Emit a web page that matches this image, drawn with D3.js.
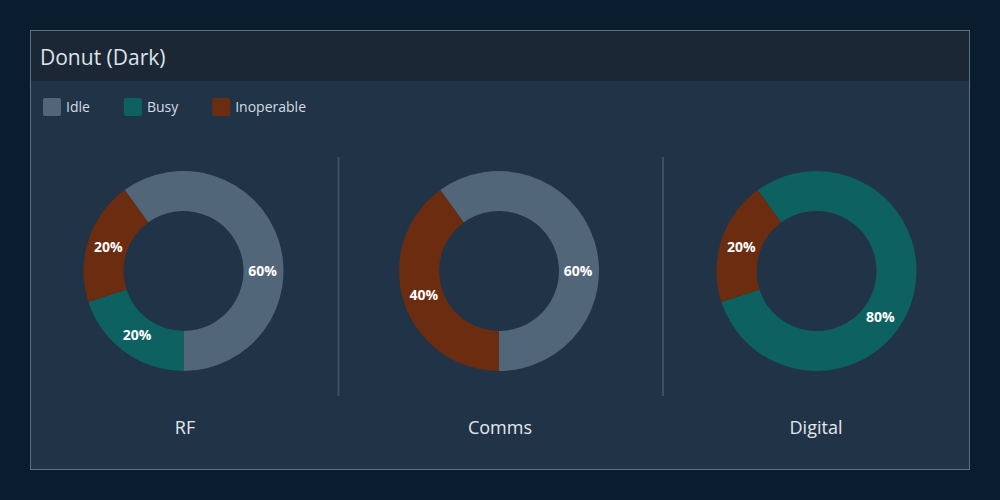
<!DOCTYPE html>
<html>
<head>
<meta charset="utf-8">
<script src="https://cdn.jsdelivr.net/npm/d3@7/dist/d3.min.js"></script>
<style>
  html, body { margin: 0; padding: 0; background: #0b1e30; }
  svg { display: block; font-family: "Open Sans", sans-serif; }
</style>
</head>
<body>
<svg id="chart" width="1000" height="500"></svg>
<script>
// ---- data ----
const categories = ["RF", "Comms", "Digital"];
const statuses = ["Idle", "Busy", "Inoperable"];
const idleValues = [60, 60, 0];
const busyValues = [20, 0, 80];
const inoperableValues = [20, 40, 20];
const statusColors = ["#52667a", "#0d6161", "#6c2c10"];
const title = "Donut (Dark)";

// ---- layout ----
const W = 1000, H = 500;
const svg = d3.select("#chart");

svg.append("rect").attr("width", W).attr("height", H).attr("fill", "#0a1d2f");
// panel body
svg.append("rect").attr("x", 30.5).attr("y", 30.5).attr("width", 939).attr("height", 439)
  .attr("fill", "#203347");
// header
svg.append("rect").attr("x", 31).attr("y", 31).attr("width", 938).attr("height", 50)
  .attr("fill", "#1b2735");
// border
svg.append("rect").attr("x", 30.5).attr("y", 30.5).attr("width", 939).attr("height", 439)
  .attr("fill", "none").attr("stroke", "#5c7082").attr("stroke-width", 1);

svg.append("text").attr("x", 40).attr("y", 64.5)
  .attr("font-size", 21).attr("fill", "#dde3e8").text(title);

// legend
const color = d3.scaleOrdinal().domain(statuses).range(statusColors);
const legend = svg.append("g").attr("transform", "translate(43,98)");
let lx = 0;
statuses.forEach(s => {
  const g = legend.append("g").attr("transform", `translate(${lx},0)`);
  g.append("rect").attr("width", 18).attr("height", 18).attr("rx", 2)
    .attr("fill", color(s));
  const t = g.append("text").attr("x", 23).attr("y", 14.3)
    .attr("font-size", 14).attr("fill", "#d5dce2").text(s);
  lx += 23 + t.node().getComputedTextLength() + 34;
});

// columns
const x = d3.scalePoint().domain(categories).range([183.5, 814.5]);
const cy = 271;
const outerR = 100, innerR = 60, labelR = 79;

// dividers
[338.5, 663].forEach(dx => {
  svg.append("line").attr("x1", dx).attr("x2", dx).attr("y1", 157).attr("y2", 396)
    .attr("stroke", "#3c4f65").attr("stroke-width", 2);
});

const pie = d3.pie().sort(null).value(d => d.value)
  .startAngle(-0.2 * Math.PI).endAngle(1.8 * Math.PI);
const arc = d3.arc().innerRadius(innerR).outerRadius(outerR);

function labelAngle(d) {
  let a0 = d.startAngle, a1 = d.endAngle;
  if (a0 < 0 && a1 > 0) {
    if (a1 >= -a0) a0 = 0; else a1 = 0;
  }
  return (a0 + a1) / 2;
}

categories.forEach((cat, i) => {
  const data = [
    { status: "Idle", value: idleValues[i] },
    { status: "Busy", value: busyValues[i] },
    { status: "Inoperable", value: inoperableValues[i] }
  ];
  const total = d3.sum(data, d => d.value);
  const cx = x(cat) + (i === 2 ? 2 : 0);
  const g = svg.append("g").attr("transform", `translate(${cx},${cy})`);
  const arcs = pie(data).filter(d => d.data.value > 0);
  g.selectAll("path").data(arcs).join("path")
    .attr("d", arc).attr("fill", d => color(d.data.status));
  g.selectAll("text").data(arcs).join("text")
    .attr("x", d => labelR * Math.sin(labelAngle(d)))
    .attr("y", d => -labelR * Math.cos(labelAngle(d)))
    .attr("dy", "0.35em")
    .attr("text-anchor", "middle")
    .attr("font-size", 14).attr("font-weight", 700).attr("fill", "#ffffff")
    .text(d => Math.round(d.data.value / total * 100) + "%");
  svg.append("text").attr("x", [185, 500, 816][i]).attr("y", 434)
    .attr("text-anchor", "middle").attr("font-size", 18).attr("fill", "#e4e9ed")
    .text(cat);
});
</script>
</body>
</html>
